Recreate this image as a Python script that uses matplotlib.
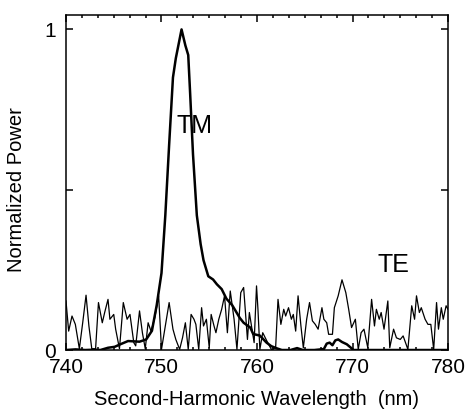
import numpy as np
import matplotlib
matplotlib.use("Agg")
import matplotlib.pyplot as plt
from matplotlib.ticker import MultipleLocator

plt.rcParams['font.family'] = ['Liberation Sans', 'DejaVu Sans']

# TM: second-harmonic peak
tm_wl = [740.0, 741.0, 742.0, 743.0, 743.6, 744.4, 745.1, 745.7, 746.5, 747.1,
         747.7, 748.4, 749.0, 749.5, 750.0, 750.4, 750.8, 751.2, 751.5, 752.1,
         752.5, 752.8, 753.0, 753.3, 753.7, 754.1, 754.4, 754.9, 755.4, 755.8,
         756.3, 756.8, 757.4, 757.9, 758.2, 758.6, 759.3, 759.6, 760.3, 761.0,
         761.5, 762.1, 762.6, 763.5, 764.2, 764.8, 766.0, 767.0, 767.3, 767.6,
         767.9, 768.2, 768.5, 768.9, 769.4, 769.8, 770.1, 775.0, 780.0]
tm_power = [0.0, 0.002, 0.0, 0.001, 0.0, 0.007, 0.010, 0.018, 0.028, 0.027,
            0.026, 0.033, 0.06, 0.14, 0.24, 0.42, 0.64, 0.85, 0.91, 1.0,
            0.95, 0.92, 0.80, 0.61, 0.42, 0.33, 0.28, 0.23, 0.22, 0.205,
            0.19, 0.16, 0.14, 0.115, 0.10, 0.085, 0.07, 0.05, 0.045, 0.023,
            0.012, 0.005, 0.0, 0.0, 0.006, 0.0, 0.0, 0.003, 0.02, 0.023,
            0.015, 0.03, 0.033, 0.025, 0.018, 0.008, 0.0, 0.0, 0.0]

# TE: noise level
te_wl = [740.0, 740.28, 740.63, 740.98, 741.4, 741.75, 742.1, 742.4, 742.7, 743.1,
         743.4, 743.8, 744.05, 744.4, 744.6, 745.0, 745.2, 745.6, 746.0, 746.4,
         746.7, 747.1, 747.3, 747.7, 748.0, 748.3, 748.6, 748.9, 749.3, 749.7,
         750.0, 750.8, 751.2, 751.5, 751.9, 752.2, 752.5, 752.8, 753.1, 753.4,
         753.6, 753.9, 754.2, 754.4, 754.7, 755.0, 755.2, 755.5, 755.7, 756.0,
         756.3, 756.6, 756.9, 757.2, 757.6, 757.9, 758.3, 758.6, 759.0, 759.2,
         759.7, 759.95, 760.1, 760.3, 760.6, 761.0, 761.5, 761.95, 762.2, 762.5,
         762.8, 763.0, 763.3, 763.6, 763.8, 764.05, 764.3, 764.6, 764.85, 765.2,
         765.5, 765.8, 766.1, 766.4, 766.8, 767.0, 767.3, 767.5, 767.9, 768.1,
         768.5, 768.9, 769.3, 769.6, 769.9, 770.3, 770.6, 770.9, 771.2, 771.6,
         772.0, 772.3, 772.5, 772.8, 773.0, 773.3, 773.7, 773.9, 774.3, 774.6,
         775.0, 775.3, 775.8, 776.2, 776.5, 776.7, 777.0, 777.2, 777.6, 777.9,
         778.2, 778.5, 778.8, 779.0, 779.3, 779.5, 779.8, 780.0]
te_power = [0.153, 0.059, 0.106, 0.08, 0.004, 0.085, 0.171, 0.075, 0.004, 0.004,
            0.148, 0.085, 0.117, 0.158, 0.096, 0.111, 0.065, 0.004, 0.148, 0.096,
            0.111, 0.023, 0.013, 0.122, 0.054, 0.004, 0.085, 0.059, 0.101, 0.169,
            0.002, 0.148, 0.065, 0.033, 0.002, 0.038, 0.085, 0.002, 0.111, 0.096,
            0.08, 0.002, 0.132, 0.075, 0.096, 0.007, 0.111, 0.075, 0.054, 0.096,
            0.127, 0.169, 0.054, 0.184, 0.096, 0.002, 0.179, 0.195, 0.033, 0.117,
            0.023, 0.20, 0.127, 0.002, 0.054, 0.03, 0.002, 0.007, 0.158, 0.08,
            0.127, 0.106, 0.132, 0.096, 0.111, 0.059, 0.169, 0.075, 0.007, 0.096,
            0.148, 0.091, 0.08, 0.065, 0.132, 0.096, 0.085, 0.049, 0.049, 0.132,
            0.169, 0.219, 0.179, 0.127, 0.07, 0.096, 0.002, 0.054, 0.065, 0.007,
            0.158, 0.075, 0.127, 0.096, 0.117, 0.065, 0.153, 0.007, 0.065, 0.038,
            0.033, 0.044, 0.002, 0.138, 0.096, 0.169, 0.117, 0.132, 0.096, 0.08,
            0.08, 0.002, 0.148, 0.065, 0.132, 0.096, 0.138, 0.127]

fig = plt.figure(figsize=(4.66, 4.13), dpi=100)
ax = fig.add_axes([0.1416, 0.1525, 0.8198, 0.8112])

ax.plot(te_wl, te_power, color='black', linewidth=0.9)
ax.plot(tm_wl, tm_power, color='black', linewidth=1.8)

ax.set_xlim(740, 780)
ax.set_ylim(0, 1.045)

ax.xaxis.set_major_locator(MultipleLocator(10))
ax.xaxis.set_minor_locator(MultipleLocator(10 / 6))
ax.set_yticks([0, 0.5, 1])
ax.set_yticklabels(['0', '', '1'])

ax.tick_params(which='both', direction='in', top=True, right=True,
               width=1.1, labelsize=15)
ax.tick_params(which='major', length=5)
ax.tick_params(which='minor', length=2.5)
ax.tick_params(axis='y', pad=7)
ax.tick_params(axis='x', pad=6)

for s in ax.spines.values():
    s.set_linewidth(1.1)

ax.text(753.5, 0.70, 'TM', fontsize=18, ha='center', va='center')
ax.text(774.3, 0.266, 'TE', fontsize=18, ha='center', va='center')

ax.set_xlabel('Second-Harmonic Wavelength  (nm)', fontsize=14.5, labelpad=9)
ax.set_ylabel('Normalized Power', fontsize=14.5)
ax.yaxis.set_label_coords(-0.105, 0.48)

fig.savefig('out.png', dpi=100)
